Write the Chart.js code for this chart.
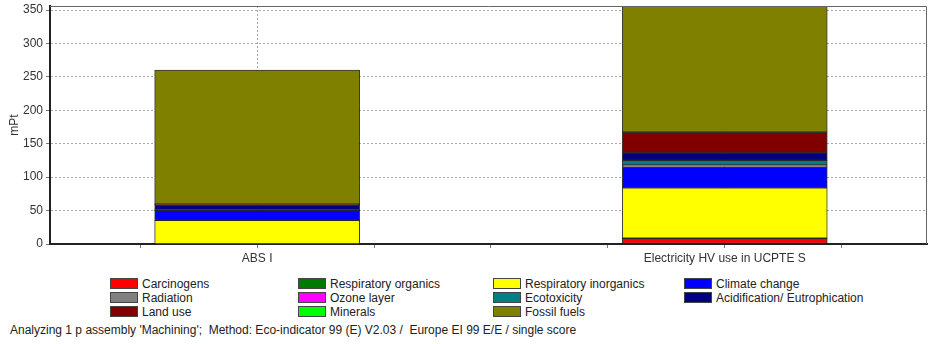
<!DOCTYPE html>
<html>
<head>
<meta charset="utf-8">
<script src="https://cdn.jsdelivr.net/npm/chart.js@4"></script>
<style>
  body { margin: 0; background: #fff; font-family: "Liberation Sans", Arial, sans-serif; }
  #wrap { position: relative; width: 928px; height: 344px; overflow: hidden; }
  #myChart { position: absolute; left: 0; top: 0; }
  .item { position: absolute; font-size: 12px; color: #222; line-height: 14px; white-space: nowrap; }
  .sw { display: inline-block; width: 26px; height: 9px; border: 1px solid #444; vertical-align: -1px; margin-right: 4px; }
  #foot { position: absolute; left: 10px; top: 323px; font-size: 12px; color: #222; white-space: nowrap; }
</style>
</head>
<body>
<div id="wrap">
  <canvas id="myChart" width="928" height="268"></canvas>
  <div id="legend"></div>
  <div id="foot">Analyzing 1 p assembly 'Machining';&nbsp; Method: Eco-indicator 99 (E) V2.03 /&nbsp; Europe EI 99 E/E / single score</div>
</div>
<script>
// categories (placed at x = 0 and x = 1)
const categories = ['ABS I', 'Electricity HV use in UCPTE S']

const impactNames = [
    'Carcinogens', 'Respiratory organics', 'Respiratory inorganics', 'Climate change',
    'Radiation', 'Ozone layer', 'Ecotoxicity', 'Acidification/ Eutrophication',
    'Land use', 'Minerals', 'Fossil fuels'
]
const impactColors = [
    '#ff0000', '#007a00', '#ffff00', '#0000ff',
    '#808080', '#ff00ff', '#008080', '#000080',
    '#800000', '#00ff00', '#808000'
]

// mPt per impact category
const absValues = [0.2, 0.1, 35, 15, 0.1, 0, 0.8, 7, 1, 0.8, 200]
const elecValues = [8.4, 0.2, 75.6, 31, 1.5, 1.5, 7, 11, 31, 0.3, 220]

const yTicks = [0, 50, 100, 150, 200, 250, 300, 350]
const xTicks = [-0.25, 0, 0.25, 0.5, 0.75, 1, 1.25]

const gridGray = '#a8a8a8'

const frame = {
    id: 'frame',
    afterDraw(chart) {
        const { ctx, chartArea: a } = chart
        ctx.save()
        ctx.strokeStyle = '#666'
        ctx.lineWidth = 1
        ctx.beginPath()
        ctx.moveTo(a.left, a.top + 0.5)
        ctx.lineTo(a.right - 0.5, a.top + 0.5)
        ctx.lineTo(a.right - 0.5, a.bottom)
        ctx.stroke()
        ctx.restore()
    }
}

const drawChart = () => {
    const ctx = document.getElementById('myChart')
    new Chart(ctx, {
        type: 'bar',
        data: {
            datasets: impactNames.map((name, i) => ({
                label: name,
                data: [{ x: 0, y: absValues[i] }, { x: 1, y: elecValues[i] }],
                backgroundColor: impactColors[i],
                borderColor: 'rgba(20,20,20,0.85)',
                borderWidth: 1,
                borderSkipped: false,
                barThickness: 205
            }))
        },
        options: {
            responsive: false,
            animation: false,
            layout: { padding: { top: 6, right: 1, left: 7, bottom: 0 } },
            plugins: { legend: { display: false }, tooltip: { enabled: false } },
            scales: {
                x: {
                    type: 'linear',
                    stacked: true,
                    offset: false,
                    min: -0.443,
                    max: 1.4325,
                    afterBuildTicks: (scale) => { scale.ticks = xTicks.map(v => ({ value: v })) },
                    afterFit: (scale) => { scale.height = 24; scale.paddingLeft = 0; scale.paddingRight = 0 },
                    ticks: {
                        autoSkip: false,
                        maxRotation: 0,
                        padding: 3,
                        color: '#333',
                        font: { family: '"Liberation Sans", Arial, sans-serif', size: 12 },
                        callback: (v) => Number.isInteger(v) ? categories[v] : ''
                    },
                    grid: {
                        offset: false,
                        color: (c) => c.tick && Number.isInteger(c.tick.value) ? gridGray : 'transparent',
                        tickColor: '#777',
                        tickLength: 4
                    },
                    border: { color: '#222', width: 2, dash: [2, 2] }
                },
                y: {
                    stacked: true,
                    min: 0,
                    max: 356,
                    afterBuildTicks: (scale) => { scale.ticks = yTicks.map(v => ({ value: v })) },
                    afterFit: (scale) => { scale.width = 43; scale.paddingTop = 0; scale.paddingBottom = 0 },
                    ticks: {
                        padding: 3,
                        color: '#333',
                        font: { family: '"Liberation Sans", Arial, sans-serif', size: 12 }
                    },
                    grid: { color: gridGray, tickColor: '#777', tickLength: 4 },
                    border: { color: '#222', width: 2, dash: [2, 2] },
                    title: {
                        display: true,
                        text: 'mPt',
                        color: '#333',
                        padding: { top: 0, bottom: 4 },
                        font: { family: '"Liberation Sans", Arial, sans-serif', size: 12 }
                    }
                }
            }
        },
        plugins: [frame]
    })
}

const drawLegend = () => {
    const colX = [110, 298, 493, 684]
    const rowY = [277, 291, 305]
    const box = document.getElementById('legend')
    impactNames.forEach((name, i) => {
        const el = document.createElement('div')
        el.className = 'item'
        el.style.left = colX[i % 4] + 'px'
        el.style.top = rowY[Math.floor(i / 4)] + 'px'
        el.innerHTML = '<span class="sw" style="background:' + impactColors[i] + '"></span>' + name
        box.appendChild(el)
    })
}

drawChart()
drawLegend()
</script>
</body>
</html>
